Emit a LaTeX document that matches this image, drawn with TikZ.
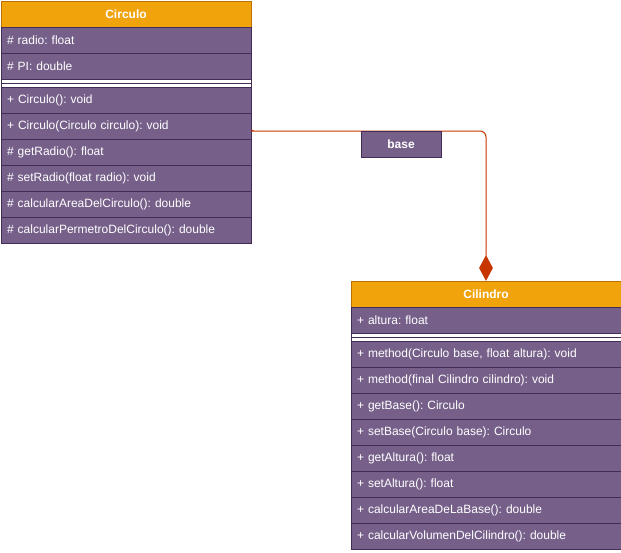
\documentclass[tikz,border=0pt]{standalone}
\usepackage{fontspec}
\setmainfont{Liberation Sans}
\usetikzlibrary{shapes.geometric,calc}
\definecolor{hdrfill}{HTML}{F0A30A}
\definecolor{hdrline}{HTML}{BD7000}
\definecolor{rowfill}{HTML}{76608A}
\definecolor{rowline}{HTML}{432D57}
\definecolor{connc}{HTML}{C73500}
\frenchspacing
\begin{document}
\begin{tikzpicture}[x=1pt,y=-1pt,
  hdr/.style={draw=hdrline,fill=hdrfill,line width=1pt,text=white,font=\fontsize{12}{14}\selectfont\bfseries,minimum height=26pt,inner sep=0pt,anchor=north west},
  row/.style={draw=rowline,fill=rowfill,line width=1pt,text=white,font=\fontsize{12}{14}\selectfont\frenchspacing,minimum height=26pt,inner xsep=6pt,inner ysep=0pt,anchor=north west,align=left,text width=#1-12pt},
  sepbox/.style={draw=rowline,fill=white,line width=1pt,minimum height=8pt,inner sep=0pt,anchor=north west,minimum width=#1},
  conn/.style={draw=connc,line width=1pt},
  lbl/.style={draw=rowline,fill=rowfill,line width=1pt,text=white,font=\fontsize{12}{14}\selectfont\bfseries,minimum width=80pt,minimum height=26pt,inner sep=0pt,anchor=north west}
]
\useasboundingbox (0,0) rectangle (621,552);
% Circulo
\node[hdr,minimum width=250pt] (ch) at (0.5,0.5) {Circulo};
\node[row=250pt] (ca1) at (0.5,26.5) {\# radio: float};
\node[row=250pt] (ca2) at (0.5,52.5) {\# PI: double};
\node[sepbox=250pt] (cs) at (0.5,78.5) {};
\draw[rowline,line width=1pt] (cs.west) -- (cs.east);
\node[row=250pt] (c1) at (0.5,86.5) {+ Circulo(): void};
\node[row=250pt] (c2) at (0.5,112.5) {+ Circulo(Circulo circulo): void};
\node[row=250pt] (c3) at (0.5,138.5) {\# getRadio(): float};
\node[row=250pt] (c4) at (0.5,164.5) {\# setRadio(float radio): void};
\node[row=250pt] (c5) at (0.5,190.5) {\# calcularAreaDelCirculo(): double};
\node[row=250pt] (c6) at (0.5,216.5) {\# calcularPermetroDelCirculo(): double};
% Cilindro
\node[hdr,minimum width=270pt] (kh) at (350.5,280.5) {Cilindro};
\node[row=270pt] (ka1) at (350.5,306.5) {+ altura: float};
\node[sepbox=270pt] (ks) at (350.5,332.5) {};
\draw[rowline,line width=1pt] (ks.west) -- (ks.east);
\node[row=270pt] (k1) at (350.5,340.5) {+ method(Circulo base, float altura): void};
\node[row=270pt] (k2) at (350.5,366.5) {+ method(final Cilindro cilindro): void};
\node[row=270pt] (k3) at (350.5,392.5) {+ getBase(): Circulo};
\node[row=270pt] (k4) at (350.5,418.5) {+ setBase(Circulo base): Circulo};
\node[row=270pt] (k5) at (350.5,444.5) {+ getAltura(): float};
\node[row=270pt] (k6) at (350.5,470.5) {+ setAltura(): float};
\node[row=270pt] (k7) at (350.5,496.5) {+ calcularAreaDeLaBase(): double};
\node[row=270pt] (k8) at (350.5,522.5) {+ calcularVolumenDelCilindro(): double};
% connector
\node[diamond,draw=connc,fill=connc,line width=1pt,minimum width=13pt,minimum height=24pt,inner sep=0pt,anchor=south] (dm) at (kh.north) {};
\coordinate (st) at ([yshift=-4pt]c2.east);
\draw[conn,rounded corners=6pt] (st) to[out=-30,in=180] ([xshift=6pt,yshift=-5pt]c2.east) -| (dm.north);
\node[lbl] (bl) at (360.5,130.5) {base};
\end{tikzpicture}
\end{document}
